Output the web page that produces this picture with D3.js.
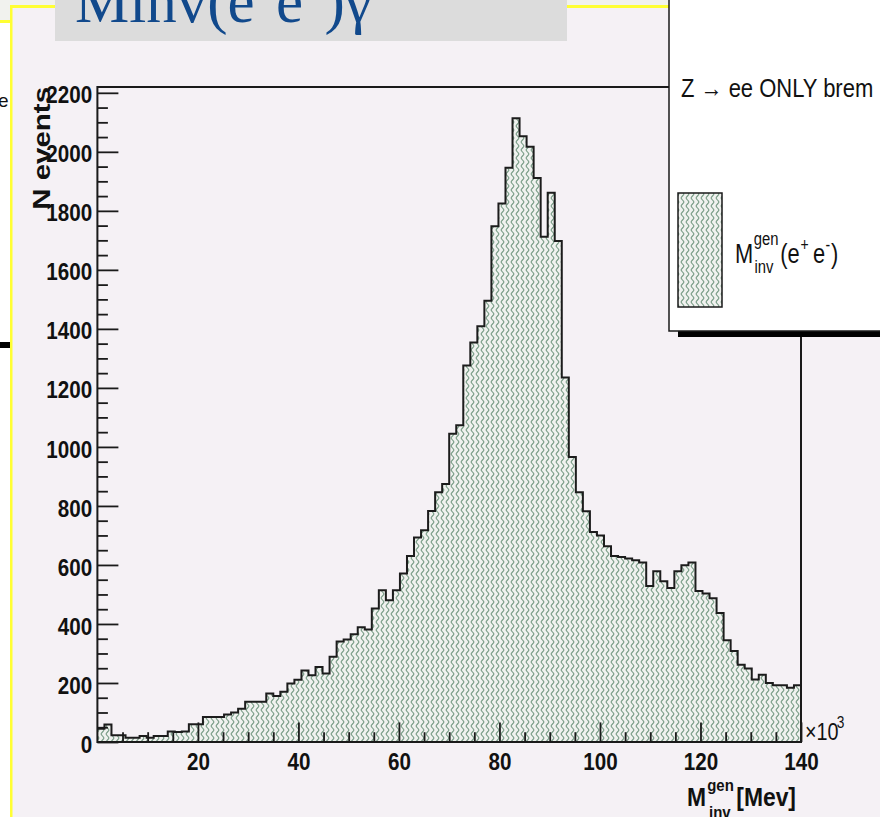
<!DOCTYPE html>
<html>
<head>
<meta charset="utf-8">
<script src="https://cdn.jsdelivr.net/npm/d3@7"></script>
<style>
  html, body { margin: 0; padding: 0; background: #ffffff; overflow: hidden; }
  svg { display: block; font-family: "Liberation Sans", Arial, Helvetica, sans-serif; }
</style>
</head>
<body>
<svg id="chart" width="880" height="817"></svg>
<script>
// Histogram range (x axis in units of 10^3 MeV) and bin contents
const binLow = 0;
const binHigh = 140;
const counts = [
  45, 59, 23, 23, 14, 14, 20, 14, 20, 20,
  36, 34, 36, 60, 60, 85, 85, 85, 93, 100,
  113, 136, 136, 136, 164, 156, 170, 198, 211, 242,
  226, 254, 232, 289, 341, 347, 365, 389, 381, 452,
  514, 480, 514, 571, 630, 693, 718, 783, 846, 874,
  1045, 1073, 1276, 1354, 1409, 1495, 1748, 1825, 1946, 2114,
  2053, 2017, 1911, 1712, 1861, 1698, 1235, 966, 846, 782,
  712, 700, 663, 630, 627, 622, 616, 608, 529, 579,
  545, 522, 579, 599, 608, 512, 503, 487, 437, 345,
  308, 262, 249, 212, 228, 200, 192, 192, 184, 192
];

// Axis ticks and labels
const xMajorTicks = [20, 40, 60, 80, 100, 120, 140];
const xTickLabels = ["20", "40", "60", "80", "100", "120", "140"];
const yMajorTicks = [0, 200, 400, 600, 800, 1000, 1200, 1400, 1600, 1800, 2000, 2200];
const yTickLabels = ["0", "200", "400", "600", "800", "1000", "1200", "1400", "1600", "1800", "2000", "2200"];
const xMinorStep = 5;
const yMinorStep = 50;

// Texts
const slideTitle = ["Minv(e", "+", "e", "−", ")γ"];
const legendHeader = "Z → ee ONLY brem";
const yAxisTitle = "N events";

const svg = d3.select("#chart");
const W = 880, H = 817;
const SANS = "'Liberation Sans', Arial, Helvetica, sans-serif";
const SERIF = "'Liberation Serif', 'Times New Roman', Times, serif";

// ---------- slide background ----------
svg.append("rect").attr("x", 0).attr("y", 0).attr("width", W).attr("height", H).attr("fill", "#ffffff");
svg.append("rect").attr("x", 0).attr("y", 0).attr("width", W).attr("height", 7).attr("fill", "#f1f2ee");
svg.append("rect").attr("x", 807).attr("y", 0).attr("width", 73).attr("height", 6).attr("fill", "#e3e5da");
svg.append("rect").attr("x", 0).attr("y", 0).attr("width", 11).attr("height", 21).attr("fill", "#f1f2ee");
svg.append("rect").attr("x", 0).attr("y", 20).attr("width", 11).attr("height", 3).attr("fill", "#ffff33");
svg.append("rect").attr("x", 0).attr("y", 342).attr("width", 10).attr("height", 6).attr("fill", "#000000");
svg.append("text").attr("x", -2).attr("y", 107).attr("font-size", 19).attr("fill", "#111").text("e");

// main panel with yellow edges
svg.append("rect").attr("x", 10).attr("y", 5).attr("width", W - 10).attr("height", H - 5).attr("fill", "#f5f1f5");
svg.append("rect").attr("x", 10).attr("y", 5).attr("width", W - 10).attr("height", 3).attr("fill", "#ffff33");
svg.append("rect").attr("x", 10).attr("y", 5).attr("width", 2.5).attr("height", H - 5).attr("fill", "#ffff33");

// title box
svg.append("rect").attr("x", 55).attr("y", 0).attr("width", 512).attr("height", 41).attr("fill", "#dcdcdc");
const title = svg.append("text")
  .attr("x", 75).attr("y", 22)
  .style("font-family", SERIF)
  .attr("font-size", 61).attr("fill", "#11498c");
title.append("tspan").text(slideTitle[0]);
title.append("tspan").attr("font-size", 38).attr("dy", -27).text(slideTitle[1]);
title.append("tspan").attr("dy", 27).text(slideTitle[2]);
title.append("tspan").attr("font-size", 38).attr("dy", -27).text(slideTitle[3]);
title.append("tspan").attr("dy", 27).text(slideTitle[4]);

// ---------- pattern fill ----------
const defs = svg.append("defs");
const pat = defs.append("pattern")
  .attr("id", "wavy").attr("patternUnits", "userSpaceOnUse")
  .attr("width", 5).attr("height", 8);
pat.append("rect").attr("width", 5).attr("height", 8).attr("fill", "#f0f2ef");
pat.append("path")
  .attr("d", "M2.5,0 C4.4,2 4.4,2 2.5,4 C0.6,6 0.6,6 2.5,8")
  .attr("fill", "none").attr("stroke", "#769a84").attr("stroke-width", 1.1);

// ---------- scales ----------
const frame = { left: 97.4, right: 801, top: 87, bottom: 742 };
const x = d3.scaleLinear().domain([binLow, binHigh]).range([frame.left, frame.right]);
const yMax = 1.05 * d3.max(counts);
const y = d3.scaleLinear().domain([0, yMax]).range([frame.bottom, frame.top]);

const binWidth = (binHigh - binLow) / counts.length;
const pts = counts.map((c, i) => ({ x0: binLow + i * binWidth, v: c }));
pts.push({ x0: binHigh, v: counts[counts.length - 1] });

// ---------- histogram ----------
const area = d3.area().curve(d3.curveStepAfter)
  .x(d => x(d.x0)).y0(y(0)).y1(d => y(d.v));
svg.append("path").datum(pts).attr("d", area).attr("fill", "url(#wavy)");

const line = d3.line().curve(d3.curveStepAfter).x(d => x(d.x0)).y(d => y(d.v));
svg.append("path").datum(pts).attr("d", line)
  .attr("fill", "none").attr("stroke", "#1c1c1c").attr("stroke-width", 2);

// ---------- frame ----------
svg.append("rect")
  .attr("x", frame.left).attr("y", frame.top)
  .attr("width", frame.right - frame.left).attr("height", frame.bottom - frame.top)
  .attr("fill", "none").attr("stroke", "#1a1a1a").attr("stroke-width", 2);

// ---------- axes (ticks pointing into the frame) ----------
const xMinor = d3.range(binLow, binHigh + 0.001, xMinorStep).filter(v => !xMajorTicks.includes(v) && v > 0);
const yMinor = d3.range(0, yMax, yMinorStep).filter(v => !yMajorTicks.includes(v));

const xAxisMinor = svg.append("g").attr("transform", `translate(0,${frame.bottom})`)
  .call(d3.axisBottom(x).tickValues(xMinor).tickSizeInner(-9.8).tickSizeOuter(0).tickFormat(""));
const xAxis = svg.append("g").attr("transform", `translate(0,${frame.bottom})`)
  .call(d3.axisBottom(x).tickValues(xMajorTicks).tickSizeInner(-19.6).tickSizeOuter(0)
    .tickPadding(11).tickFormat((d, i) => xTickLabels[i]));

const yAxisMinor = svg.append("g").attr("transform", `translate(${frame.left},0)`)
  .call(d3.axisLeft(y).tickValues(yMinor).tickSizeInner(-10.5).tickSizeOuter(0).tickFormat(""));
const yAxis = svg.append("g").attr("transform", `translate(${frame.left},0)`)
  .call(d3.axisLeft(y).tickValues(yMajorTicks).tickSizeInner(-21).tickSizeOuter(0)
    .tickPadding(6).tickFormat((d, i) => yTickLabels[i]));

[xAxisMinor, xAxis, yAxisMinor, yAxis].forEach(g => {
  g.select(".domain").remove();
  g.selectAll(".tick line").attr("stroke", "#1a1a1a").attr("stroke-width", 1.8);
});
[xAxis, yAxis].forEach(g => {
  g.attr("font-family", null).attr("font-size", null);
  g.selectAll(".tick text")
    .style("font-family", SANS)
    .attr("font-weight", "bold").attr("font-size", 24).attr("fill", "#111")
    .attr("transform", "scale(0.86,1)");
});
yAxis.selectAll(".tick text").attr("dy", "0.42em");

// x-axis exponent
const expo = svg.append("g").attr("transform", "translate(805,740) scale(0.86,1)");
expo.append("text").attr("font-size", 23).attr("fill", "#111").text("×10");
expo.append("text").attr("x", 37).attr("y", -12).attr("font-size", 16).attr("fill", "#111").text("3");

// x-axis title: M_inv^gen [Mev]
const xt = svg.append("g").attr("transform", "translate(687,806) scale(0.88,1)")
  .attr("font-weight", "bold").attr("fill", "#111");
xt.append("text").attr("font-size", 26).text("M");
xt.append("text").attr("x", 23).attr("y", -15).attr("font-size", 17).text("gen");
xt.append("text").attr("x", 25).attr("y", 12).attr("font-size", 17).text("inv");
xt.append("text").attr("x", 56).attr("font-size", 26).text("[Mev]");

// y-axis title
svg.append("text")
  .attr("transform", `translate(50,${frame.top}) rotate(-90) scale(1.28,1)`)
  .attr("text-anchor", "end").attr("font-weight", "bold").attr("font-size", 23)
  .attr("fill", "#111").text(yAxisTitle);

// ---------- legend ----------
svg.append("rect").attr("x", 678).attr("y", 331).attr("width", 210).attr("height", 6).attr("fill", "#000");
svg.append("rect").attr("x", 669).attr("y", -10).attr("width", 230).attr("height", 341)
  .attr("fill", "#ffffff").attr("stroke", "#1a1a1a").attr("stroke-width", 1.5);
svg.append("text").attr("transform", "translate(681,97) scale(0.88,1)")
  .attr("font-size", 25).attr("fill", "#111").text(legendHeader);
svg.append("rect").attr("x", 678).attr("y", 193).attr("width", 44).attr("height", 114)
  .attr("fill", "url(#wavy)").attr("stroke", "#1a1a1a").attr("stroke-width", 1.5);

const lg = svg.append("g").attr("transform", "translate(735,263) scale(0.78,1)").attr("fill", "#111");
lg.append("text").attr("font-size", 28).text("M");
lg.append("text").attr("x", 24).attr("y", -18).attr("font-size", 19).text("gen");
lg.append("text").attr("x", 25).attr("y", 10).attr("font-size", 19).text("inv");
lg.append("text").attr("x", 58).attr("font-size", 28).text("(e");
lg.append("text").attr("x", 84).attr("y", -12).attr("font-size", 18).text("+");
lg.append("text").attr("x", 100).attr("font-size", 28).text("e");
lg.append("text").attr("x", 116).attr("y", -12).attr("font-size", 18).text("-");
lg.append("text").attr("x", 123).attr("font-size", 28).text(")");
</script>
</body>
</html>
